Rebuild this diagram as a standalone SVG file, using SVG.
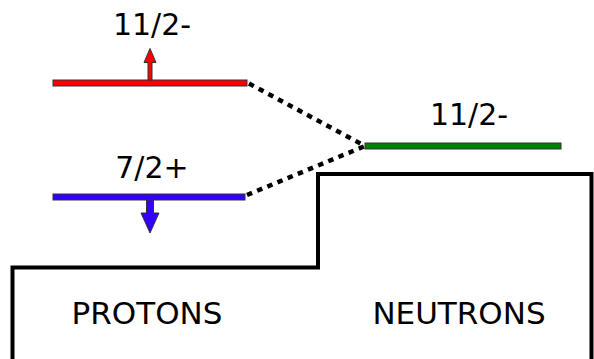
<svg xmlns="http://www.w3.org/2000/svg" width="594" height="359" viewBox="0 0 594 359">
<style>
text{font-family:"DejaVu Sans","Liberation Sans",sans-serif;font-size:30px;fill:#000;text-anchor:middle}
.big{font-size:31px}
.bar{stroke:#333;stroke-width:1}
.dot{stroke:#000;stroke-width:4.5;stroke-dasharray:5.5 5.5;fill:none}
.box{stroke:#000;stroke-width:4;fill:none}
</style>
<rect width="594" height="359" fill="#fff"/>
<g id="box">
<path class="box" d="M12.5,362 V267.5 H318 V174 H591.5 V362"/>
<text class="big" x="147" y="324">PROTONS</text>
<text class="big" x="459" y="323.5">NEUTRONS</text>
</g>
<g id="connectors">
<line class="dot" x1="249" y1="83.5" x2="365" y2="146"/>
<line class="dot" x1="247" y1="195" x2="365" y2="146"/>
</g>
<g id="proton-11-2">
<rect class="bar" x="53" y="80" width="194" height="6" fill="#ff0000"/>
<path class="bar" fill="#ff0000" d="M148,80 V62.5 H144 L150,48.5 L156,62.5 H152 V80 Z"/>
<text x="152" y="35">11/2-</text>
</g>
<g id="proton-7-2">
<rect class="bar" x="53" y="194" width="192" height="6" fill="#3300ff"/>
<path class="bar" fill="#3300ff" d="M146.5,200 V213 H141 L150,233 L159,213 H153.5 V200 Z"/>
<text x="152" y="177.5">7/2+</text>
</g>
<g id="neutron-11-2">
<rect class="bar" x="365" y="143" width="196" height="6" fill="#008000"/>
<text x="469" y="125">11/2-</text>
</g>
</svg>
